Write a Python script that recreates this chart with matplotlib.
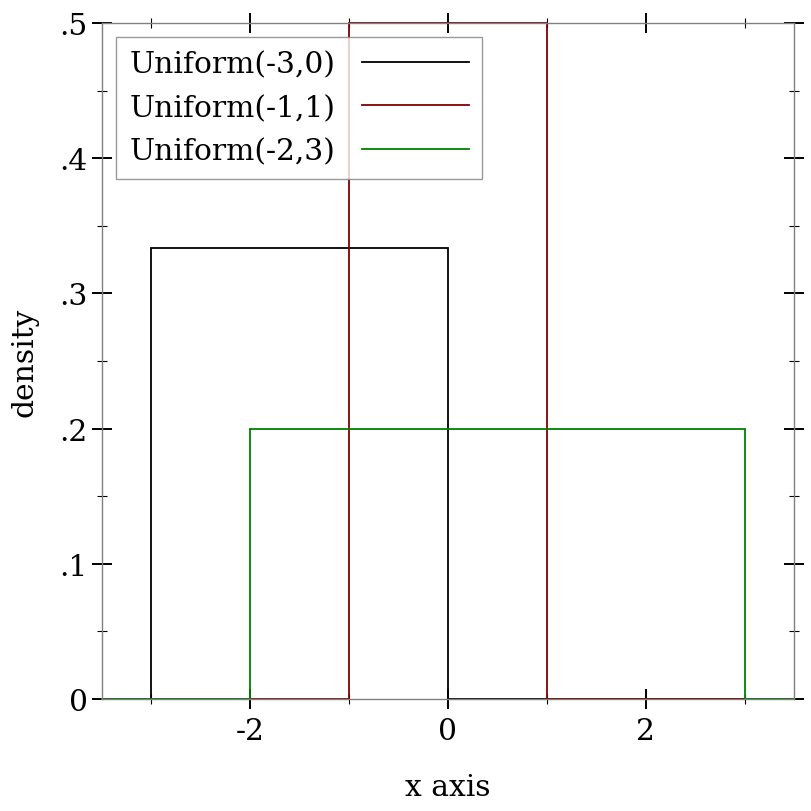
import numpy as np
import matplotlib
matplotlib.use("Agg")
import matplotlib.pyplot as plt
from matplotlib.ticker import FixedLocator, FixedFormatter

# -------------------------
# DATA (step vertices of each uniform density)
# -------------------------
labels = ["Uniform(-3,0)", "Uniform(-1,1)", "Uniform(-2,3)"]
colors = ["#000000", "#800000", "#008000"]

x_a = [-3.5, -3.0, -3.0, 0.0, 0.0, 3.5]
y_a = [0.0, 0.0, 1 / 3, 1 / 3, 0.0, 0.0]

x_b = [-3.5, -1.0, -1.0, 1.0, 1.0, 3.5]
y_b = [0.0, 0.0, 0.5, 0.5, 0.0, 0.0]

x_c = [-3.5, -2.0, -2.0, 3.0, 3.0, 3.5]
y_c = [0.0, 0.0, 0.2, 0.2, 0.0, 0.0]

xmajor = [-2, 0, 2]
xminor = [-3, -1, 1, 3]
ymajor = [0, 0.1, 0.2, 0.3, 0.4, 0.5]
ymajor_labels = ["0", ".1", ".2", ".3", ".4", ".5"]
yminor = [0.05, 0.15, 0.25, 0.35, 0.45]

# -------------------------
# PLOTTING
# -------------------------
plt.rcParams["font.family"] = ["DejaVu Serif"]
plt.rcParams["font.size"] = 21.4
plt.rcParams["axes.unicode_minus"] = False

fig = plt.figure(figsize=(8.12, 8.12), dpi=100)
ax = fig.add_axes([0.1256, 0.1379, 0.8522, 0.8325])

series = [(x_a, y_a), (x_b, y_b), (x_c, y_c)]
for (xs, ys), lab, col in zip(series, labels, colors):
    ax.plot(xs, ys, color=col, lw=1.3, label=lab, clip_on=False,
            solid_joinstyle="miter")

ax.set_xlim(-3.5, 3.5)
ax.set_ylim(0, 0.5)

for s in ax.spines.values():
    s.set_color("#808080")
    s.set_linewidth(1.0)

ax.xaxis.set_major_locator(FixedLocator(xmajor))
ax.xaxis.set_minor_locator(FixedLocator(xminor))
ax.yaxis.set_major_locator(FixedLocator(ymajor))
ax.yaxis.set_major_formatter(FixedFormatter(ymajor_labels))
ax.yaxis.set_minor_locator(FixedLocator(yminor))

ax.tick_params(which="major", direction="inout", length=14.4, width=1.4,
               color="black", top=True, right=True, pad=3)
ax.tick_params(which="minor", direction="inout", length=7.2, width=0.8,
               color="black", top=True, right=True)
ax.tick_params(axis="x", which="major", pad=6)

ax.set_xlabel("x axis", labelpad=20)
ax.set_ylabel("density", labelpad=15)

leg = ax.legend(loc="upper left", markerfirst=False, fancybox=False,
                framealpha=0.8, edgecolor="#808080", handlelength=3.6,
                handletextpad=0.9, labelspacing=0.52, borderpad=0.45,
                borderaxespad=0.47)
leg.get_frame().set_linewidth(1.0)

fig.savefig("out.png", dpi=100)
